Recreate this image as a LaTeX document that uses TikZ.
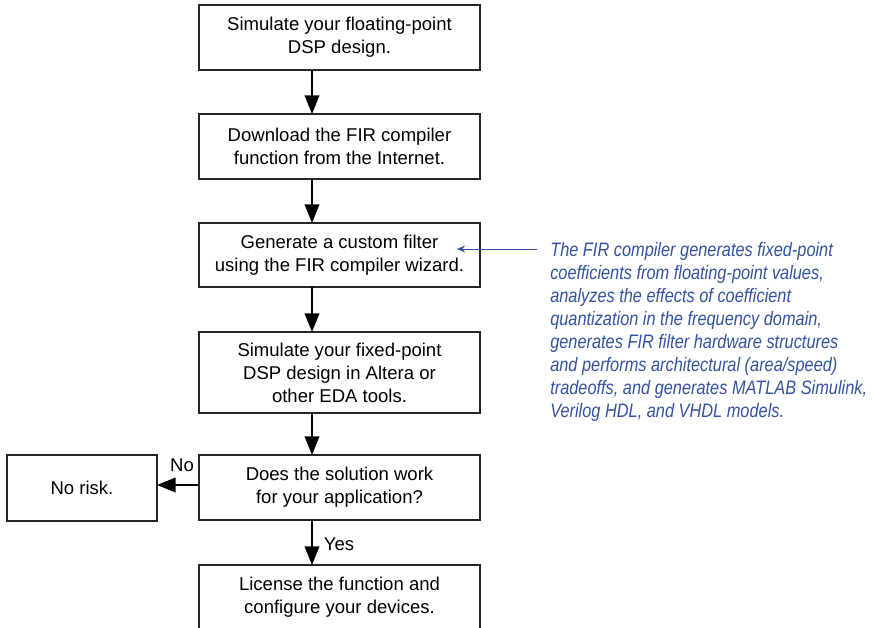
\documentclass[tikz,border=0pt]{standalone}
\usepackage{fontspec}
\setmainfont{Liberation Sans}
\newfontfamily\notefont[FakeStretch=0.84]{Liberation Sans}
\usepackage{tikz}
\usetikzlibrary{arrows.meta}
\definecolor{noteblue}{RGB}{52,82,160}

\begin{document}
\begin{tikzpicture}[x=0.75pt, y=-0.75pt,
		every node/.style={font=\fontsize{13.9}{17.25}\selectfont},
		stepbox/.style={draw=black!85, line width=1pt, outer sep=0pt, align=center,
			minimum width=210.75pt, minimum height=48.75pt},
		flow/.style={line width=1.3pt, -{Triangle[length=14pt, width=11pt]}},
		note/.style={noteblue, line width=0.7pt, -{Stealth[length=6pt, width=5pt]}}]
	\useasboundingbox (0,0) rectangle (872,628);
	
	% === 主流程 ===
	\node[stepbox] (sim) at (339.5,37.5) {Simulate your floating-point\\DSP design.};
	\node[stepbox] (dl) at (339.5,146.5) {Download the FIR compiler\\function from the Internet.};
	\node[stepbox, minimum height=48pt] (gen) at (339.5,255) {Generate a custom filter\\using the FIR compiler wizard.};
	\node[stepbox, minimum height=60.75pt] (fix) at (339.5,372.5) {Simulate your fixed-point\\DSP design in Altera or\\other EDA tools.};
	\node[stepbox] (ask) at (339.5,487.5) {Does the solution work\\for your application?};
	\node[stepbox] (lic) at (339.5,597.5) {License the function and\\configure your devices.};
	\node[stepbox, minimum width=112.5pt, minimum height=49.5pt] (risk) at (82,488) {No risk.};
	
	% 箭头竖线（不在框中心）
	\coordinate (axis) at (312,0);
	\draw[flow] (sim.south -| axis) -- (dl.north -| axis);
	\draw[flow] (dl.south -| axis) -- (gen.north -| axis);
	\draw[flow] (gen.south -| axis) -- (fix.north -| axis);
	\draw[flow] (fix.south -| axis) -- (ask.north -| axis);
	\draw[flow] (ask.south -| axis) -- (lic.north -| axis);
	\draw[flow] (ask.west |- 0,485) -- (risk.east |- 0,485);
	\node (no) at (182,465) {No};
	\node (yes) at (339,544) {Yes};
	
	% === 右侧说明 ===
	\node[anchor=north west, inner sep=0pt, align=left, text=noteblue,
		font=\notefont\fontsize{14.6}{17.25}\itshape] (info) at (550,242)
		{The FIR compiler generates fixed-point\\
		coefficients from floating-point values,\\
		analyzes the effects of coefficient\\
		quantization in the frequency domain,\\
		generates FIR filter hardware structures\\
		and performs architectural (area/speed)\\
		tradeoffs, and generates MATLAB Simulink,\\
		Verilog HDL, and VHDL models.};
	\coordinate (from) at (537,249);
	\coordinate (tip) at (457,249);
	\draw[note] (from) -- (tip);
\end{tikzpicture}
\end{document}
